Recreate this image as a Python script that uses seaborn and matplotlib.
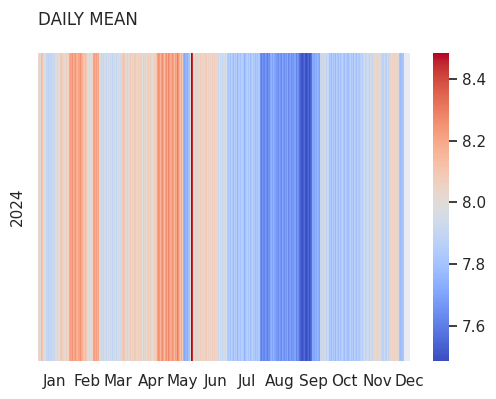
import numpy as np
import pandas as pd
import matplotlib
matplotlib.use("Agg")
import matplotlib.pyplot as plt
import seaborn as sns

# daily mean values, one list per month (2024, day-of-year columns)
jan = [8.03, 8.06, 8.01, 8.15, 8.12, 8.0, 7.98, 8.01, 7.9, 7.87, 7.92, 7.89, 7.88, 7.93, 7.9, 7.91,
       7.97, 7.99, 7.95, 8.0, 7.97, 8.09, 8.1, 8.06, 8.05, 8.02, 8.07, 8.0, 8.05, 8.19, 8.22]
feb = [8.2, 8.25, 8.17, 8.21, 8.24, 8.18, 8.15, 8.22, 8.2, 8.25, 8.18, 8.12, 8.1, 8.13, 8.1,
       8.02, 8.0, 8.04, 7.99, 8.02, 8.05, 8.2, 8.23, 8.18, 8.22, 8.17, 8.2, 7.95, 7.92]
mar = [7.94, 7.9, 7.95, 7.97, 7.91, 7.96, 7.93, 7.98, 7.92, 7.97, 7.89, 7.95, 7.93, 7.97, 7.91,
       7.95, 7.99, 7.92, 7.96, 8.1, 8.12, 8.09, 8.05, 8.01, 8.07, 8.0, 8.05, 8.08, 7.99, 8.06, 8.03]
apr = [8.09, 8.04, 8.0, 8.07, 8.02, 8.08, 8.05, 7.99, 8.08, 8.03, 8.07, 8.0, 8.05, 8.09, 8.02,
       8.06, 8.04, 7.99, 8.08, 8.03, 8.11, 8.2, 8.26, 8.23, 8.16, 8.22, 8.27, 8.2, 8.13, 8.22]
may = [8.25, 8.18, 8.28, 8.23, 8.19, 8.26, 8.21, 8.15, 8.22, 8.2, 8.3, 8.24, 8.17, 8.12, 8.18, 8.1,
       7.76, 7.72, 7.74, 7.77, 7.73, 7.8, 8.0, 8.483, 8.44, 8.06, 8.02, 8.07, 8.03, 8.08, 8.01]
jun = [8.05, 8.08, 8.0, 8.06, 7.99, 8.05, 8.08, 8.01, 8.06, 8.03, 8.05, 7.98, 8.07, 8.02, 8.08,
       8.0, 8.05, 7.95, 7.92, 7.97, 7.93, 7.98, 7.9, 7.95, 7.93, 7.97, 7.86, 7.82, 7.85, 7.8]
jul = [7.87, 7.83, 7.78, 7.85, 7.82, 7.86, 7.76, 7.83, 7.85, 7.8, 7.86, 7.82, 7.75, 7.8, 7.84, 7.86,
       7.82, 7.85, 7.78, 7.83, 7.87, 7.82, 7.84, 7.79, 7.83, 7.8, 7.84, 7.65, 7.61, 7.66, 7.63]
aug = [7.62, 7.67, 7.65, 7.6, 7.66, 7.64, 7.73, 7.74, 7.7, 7.75, 7.72, 7.69, 7.67, 7.64, 7.7, 7.66,
       7.63, 7.71, 7.67, 7.64, 7.69, 7.66, 7.72, 7.63, 7.67, 7.7, 7.64, 7.68, 7.66, 7.7, 7.62]
sep = [7.67, 7.64, 7.58, 7.54, 7.51, 7.5, 7.53, 7.56, 7.5, 7.487, 7.52, 7.55, 7.5, 7.54, 7.57,
       7.72, 7.7, 7.74, 7.72, 7.76, 7.73, 7.7, 7.92, 7.89, 7.94, 7.9, 7.95, 7.92, 7.88, 7.93]
oct_ = [7.91, 7.82, 7.78, 7.85, 7.8, 7.84, 7.77, 7.86, 7.82, 7.79, 7.85, 7.8, 7.84, 7.88, 7.81, 7.78,
        7.85, 7.83, 7.79, 7.84, 7.87, 7.81, 7.85, 7.78, 7.88, 7.83, 7.8, 7.86, 7.84, 7.81, 7.87]
nov = [7.89, 7.85, 7.92, 7.94, 7.9, 7.95, 7.92, 7.89, 7.94, 7.92, 7.9, 8.02, 8.04, 8.0, 8.03,
       8.05, 8.01, 8.04, 8.0, 7.9, 7.87, 7.92, 7.89, 7.86, 7.93, 7.9, 7.92, 8.04, 8.02, 8.05]
dec = [8.03, 8.06, 8.01, 8.04, 8.05, 8.01, 7.8, 7.78, 7.82, 7.8,
       np.nan, np.nan, np.nan, np.nan, np.nan, np.nan]

month_labels = ["Jan", "Feb", "Mar", "Apr", "May", "Jun",
                "Jul", "Aug", "Sep", "Oct", "Nov", "Dec"]
month_days = [31, 29, 31, 30, 31, 30, 31, 31, 30, 31, 30, 31]
year = 2024

values = jan + feb + mar + apr + may + jun + jul + aug + sep + oct_ + nov + dec
df = pd.DataFrame([values], index=[year], columns=np.arange(1, len(values) + 1))

sns.set_theme()

fig = plt.figure(figsize=(4.96, 3.99), dpi=100)
ax = fig.add_axes([38 / 496, 38 / 399, 372 / 496, 308 / 399])
cax = fig.add_axes([433 / 496, 38 / 399, 16 / 496, 308 / 399])

sns.heatmap(df, cmap="coolwarm", ax=ax, cbar_ax=cax, xticklabels=False)
ax.grid(False)

# month ticks at mid-month
month_start = np.concatenate([[0], np.cumsum(month_days)[:-1]])
ax.set_xticks(month_start + 15.5)
ax.set_xticklabels(month_labels, rotation=0)
ax.set_title("DAILY MEAN", loc="left", pad=20)

fig.savefig("out.png", dpi=100)
